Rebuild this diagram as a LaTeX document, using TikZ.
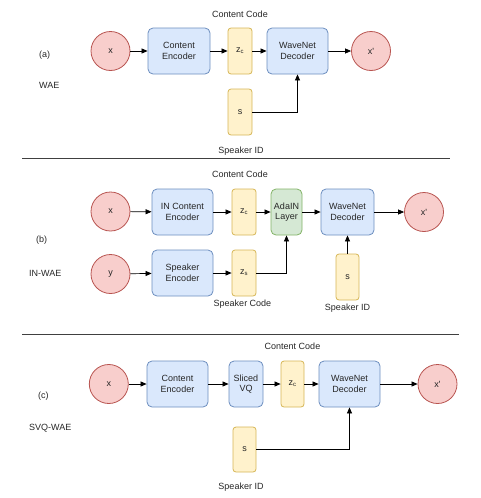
\documentclass[tikz,border=0pt]{standalone}
\usepackage{fontspec}
\setmainfont{Liberation Sans}
\usepackage{xcolor}
\usetikzlibrary{arrows.meta}
\usetikzlibrary{positioning}

\definecolor{sigfill}{HTML}{F8CECC}
\definecolor{sigline}{HTML}{B85450}
\definecolor{encfill}{HTML}{DAE8FC}
\definecolor{encline}{HTML}{6C8EBF}
\definecolor{codefill}{HTML}{FFF2CC}
\definecolor{codeline}{HTML}{D6B656}
\definecolor{adafill}{HTML}{D5E8D4}
\definecolor{adaline}{HTML}{82B366}

\begin{document}
\begin{tikzpicture}[x=1pt,y=-1pt]
  \tikzset{every node/.style = {font=\fontsize{9}{10.5}\selectfont, text=black!85}}
  \tikzset{signal/.style = {shape=circle,draw=sigline,fill=sigfill,line width=0.8pt,minimum size=39pt,inner sep=1pt}}
  \tikzset{encoder/.style = {shape=rectangle,rounded corners=5pt,draw=encline,fill=encfill,line width=0.8pt,minimum height=46pt,inner sep=1pt,align=center}}
  \tikzset{codebox/.style = {shape=rectangle,rounded corners=3pt,draw=codeline,fill=codefill,line width=0.8pt,minimum width=24pt,minimum height=46pt,inner sep=1pt}}
  \tikzset{adain/.style = {shape=rectangle,rounded corners=5pt,draw=adaline,fill=adafill,line width=0.8pt,minimum width=31pt,minimum height=46pt,inner sep=1pt,align=center}}
  \tikzset{caption/.style = {inner sep=1pt}}
  \tikzset{%
  tipA/.tip={Triangle[length=6pt,width=5pt]},
}
  \useasboundingbox (0,0) rectangle (480,498);

  % (a) WAE
	\node[caption] (ccA) at (240,14) {Content Code};
	\node[caption,anchor=west] (tagA) at (38,55) {(a)};
	\node[caption,anchor=west] (nameA) at (38,85) {WAE};
	\node[signal] (xA) at (110.5,51) {x};
	\node[encoder,minimum width=62pt] (encA) at (179,51) {Content\\Encoder};
	\node[codebox] (zcA) at (240,51) {z\textsubscript{c}};
	\node[encoder,minimum width=61pt] (decA) at (297.5,51) {WaveNet\\Decoder};
	\node[signal] (outA) at (371,51) {x\textquotesingle};
	\node[codebox] (sA) at (240,112) {s};
	\node[caption] (idA) at (241,151) {Speaker ID};

    \foreach \from/\to in {xA/encA, encA/zcA, zcA/decA, decA/outA}
    \path[-tipA,line width=0.7pt](\from) edge (\to);
    \draw[-tipA,line width=0.7pt] (sA) -| (decA);

	\draw[black!75,line width=0.7pt] (22,158) -- (450,158);

  % (b) IN-WAE
	\node[caption] (ccB) at (240,174) {Content Code};
	\node[caption,anchor=west] (tagB) at (35,240) {(b)};
	\node[caption,anchor=west] (nameB) at (28,273) {IN-WAE};
	\node[signal] (xB) at (110.5,211.5) {x};
	\node[encoder,minimum width=61pt] (encB) at (182.5,212) {IN Content\\Encoder};
	\node[codebox] (zcB) at (244,212) {z\textsubscript{c}};
	\node[adain] (adaB) at (286.5,212) {AdaIN\\Layer};
	\node[encoder,minimum width=53pt] (decB) at (347.5,212) {WaveNet\\Decoder};
	\node[signal] (outB) at (424,212) {x\textquotesingle};
	\node[signal] (yB) at (110.5,274) {y};
	\node[encoder,minimum width=61pt] (spkB) at (182.5,273) {Speaker\\Encoder};
	\node[codebox] (zsB) at (244,273) {z\textsubscript{s}};
	\node[caption] (scB) at (242.5,304) {Speaker Code};
	\node[codebox,minimum width=23pt] (sB) at (347.5,277) {s};
	\node[caption] (idB) at (347.5,308) {Speaker ID};

    \foreach \from/\to in {xB/encB, encB/zcB, zcB/adaB, adaB/decB, decB/outB, yB/spkB, spkB/zsB, sB/decB}
    \path[-tipA,line width=0.7pt](\from) edge (\to);
    \draw[-tipA,line width=0.7pt] (zsB) -| (adaB);

	\draw[black!75,line width=0.7pt] (22,334) -- (459,334);

  % (c) SVQ-WAE
	\node[caption] (ccC) at (292.5,346) {Content Code};
	\node[caption,anchor=west] (tagC) at (37,396) {(c)};
	\node[caption,anchor=west] (nameC) at (28,428) {SVQ-WAE};
	\node[signal] (xC) at (108.8,384) {x};
	\node[encoder,minimum width=61pt] (encC) at (177.5,384) {Content\\Encoder};
	\node[encoder,minimum width=34pt] (vqC) at (246,384) {Sliced\\VQ};
	\node[codebox,minimum width=23pt] (zcC) at (292.5,384) {z\textsubscript{c}};
	\node[encoder,minimum width=61pt] (decC) at (349.5,384) {WaveNet\\Decoder};
	\node[signal] (outC) at (437.5,384) {x\textquotesingle};
	\node[codebox,minimum width=23pt,minimum height=45pt] (sC) at (244.5,449.5) {s};
	\node[caption] (idC) at (241,487) {Speaker ID};

    \foreach \from/\to in {xC/encC, encC/vqC, vqC/zcC, zcC/decC, decC/outC}
    \path[-tipA,line width=0.7pt](\from) edge (\to);
    \draw[-tipA,line width=0.7pt] (sC) -| (decC);

\end{tikzpicture}
\end{document}
